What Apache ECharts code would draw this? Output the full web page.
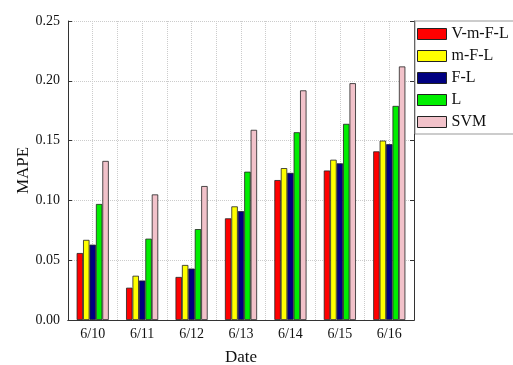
<!DOCTYPE html>
<html>
<head>
<meta charset="utf-8">
<script src="https://cdn.jsdelivr.net/npm/echarts@6/dist/echarts.min.js"></script>
<style>
  html, body { margin: 0; padding: 0; background: #fff; }
  #main { width: 513px; height: 365px; }
</style>
</head>
<body>
<div id="main"></div>
<script>
var dates = ['6/10', '6/11', '6/12', '6/13', '6/14', '6/15', '6/16'];
var seriesNames = ['V-m-F-L', 'm-F-L', 'F-L', 'L', 'SVM'];
var vmfl = [0.056, 0.027, 0.036, 0.085, 0.117, 0.125, 0.141];
var mfl  = [0.067, 0.037, 0.046, 0.095, 0.127, 0.134, 0.150];
var fl   = [0.063, 0.033, 0.043, 0.091, 0.123, 0.131, 0.147];
var l    = [0.097, 0.068, 0.076, 0.124, 0.157, 0.164, 0.179];
var svm  = [0.133, 0.105, 0.112, 0.159, 0.192, 0.198, 0.212];
var colors = ['#ff0000', '#ffff00', '#000080', '#00ee00', '#f2c2ca'];

function drawChart () {
  var chartDom = document.getElementById('main');
  var myChart = echarts.init(chartDom);
  var option;
  var font = 'Liberation Serif';
  var values = [vmfl, mfl, fl, l, svm];

  var series = seriesNames.map(function (name, i) {
    return {
      name: name,
      type: 'bar',
      data: values[i],
      barGap: '0%',
      barCategoryGap: '35%',
      itemStyle: { color: colors[i], borderColor: '#222', borderWidth: 0.8 }
    };
  });

  option = {
    animation: false,
    backgroundColor: '#fff',
    textStyle: { fontFamily: font },
    grid: { left: 68, right: 99, top: 21, bottom: 45, outerBoundsMode: 'none' },
    legend: {
      data: seriesNames,
      icon: 'rect',
      orient: 'vertical',
      left: 415,
      top: 21,
      padding: [5, 10, 4, 2],
      itemWidth: 29,
      itemHeight: 11,
      itemGap: 6,
      borderColor: '#999',
      borderWidth: 1,
      textStyle: { fontFamily: font, fontSize: 16, color: '#111' },
      itemStyle: { borderColor: '#222', borderWidth: 1 }
    },
    xAxis: [
      {
        type: 'category',
        data: dates,
        name: 'Date',
        nameLocation: 'middle',
        nameGap: 29,
        nameTextStyle: { fontFamily: font, fontSize: 17, color: '#111' },
        axisLine: { lineStyle: { color: '#333' } },
        axisTick: { show: false },
        axisLabel: { fontFamily: font, fontSize: 14, color: '#111', margin: 7 },
        splitLine: { show: false }
      },
      {
        type: 'value',
        min: 0,
        max: 14,
        interval: 1,
        position: 'top',
        axisLine: { show: true, lineStyle: { color: '#333' } },
        axisTick: { show: false },
        axisLabel: { show: false },
        splitLine: { show: true, lineStyle: { color: '#ccc', type: 'dotted' } }
      }
    ],
    yAxis: [
      {
        type: 'value',
        min: 0,
        max: 0.25,
        interval: 0.05,
        name: 'MAPE',
        nameLocation: 'middle',
        nameGap: 36,
        nameMoveOverlap: false,
        nameTextStyle: { fontFamily: font, fontSize: 17, color: '#111' },
        axisLine: { show: true, lineStyle: { color: '#333' } },
        axisTick: { show: true, inside: true, length: 4, lineStyle: { color: '#333' } },
        axisLabel: {
          fontFamily: font, fontSize: 14, color: '#111', margin: 8,
          formatter: function (v) { return v.toFixed(2); }
        },
        splitLine: { show: true, lineStyle: { color: '#ccc', type: 'dotted' } }
      },
      {
        type: 'value',
        min: 0,
        max: 0.25,
        interval: 0.05,
        position: 'right',
        axisLine: { show: true, lineStyle: { color: '#333' } },
        axisTick: { show: true, inside: true, length: 4, lineStyle: { color: '#333' } },
        axisLabel: { show: false },
        splitLine: { show: false }
      }
    ],
    series: series
  };

  option && myChart.setOption(option);
}

drawChart()
</script>
</body>
</html>
